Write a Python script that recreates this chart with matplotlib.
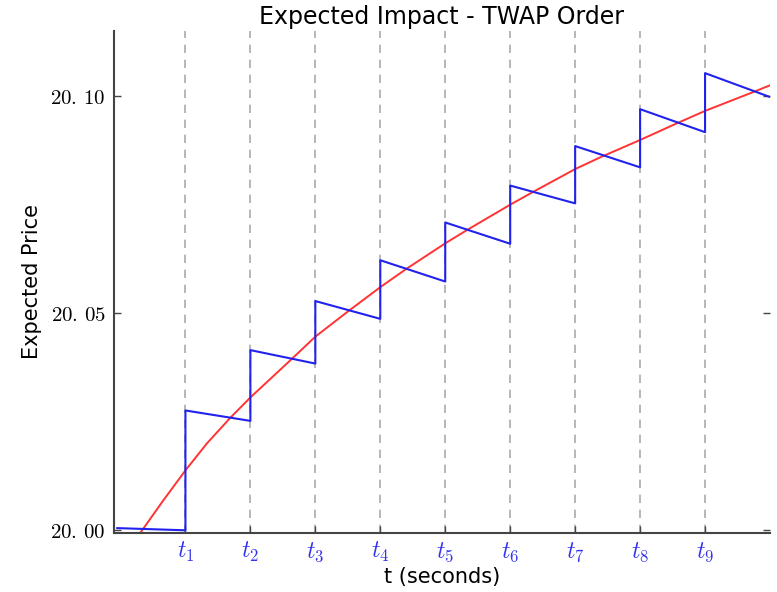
import matplotlib
matplotlib.use('Agg')
import matplotlib.pyplot as plt

# trade times (seconds) and tick labels
trade_times = [1, 2, 3, 4, 5, 6, 7, 8, 9]
trade_labels = [r'$t_{%d}$' % i for i in trade_times]

# blue sawtooth: one (start, end) value pair per interval between trades
seg_starts = [-0.05, 1, 2, 3, 4, 5, 6, 7, 8, 9]
seg_ends = [1, 2, 3, 4, 5, 6, 7, 8, 9, 10]
seg_start_price = [20.0005, 20.0276, 20.0415, 20.0528, 20.0622,
                   20.0709, 20.0794, 20.0885, 20.0970, 20.1053]
seg_end_price = [20.0000, 20.0252, 20.0384, 20.0487, 20.0573,
                 20.0660, 20.0753, 20.0836, 20.0917, 20.0998]

# red curve
curve_t = [0.30, 0.66, 1.0, 1.33, 1.69, 2.0, 2.64, 3.0, 3.51, 4.0, 4.4,
           5.0, 5.34, 6.0, 6.36, 7.0, 7.4, 8.0, 8.56, 9.0, 9.82, 10.0]
curve_price = [19.9993, 20.0069, 20.0138, 20.0200, 20.0259, 20.0306,
               20.0395, 20.0446, 20.0505, 20.0560, 20.0602, 20.0661,
               20.0692, 20.0750, 20.0780, 20.0832, 20.0860, 20.0899,
               20.0937, 20.0966, 20.1014, 20.1025]

ytick_values = [20.00, 20.05, 20.10]
ytick_labels = [r'$20.\,00$', r'$20.\,05$', r'$20.\,10$']

plt.rcParams['mathtext.fontset'] = 'cm'

fig = plt.figure(figsize=(7.77, 5.92), dpi=100)
ax = fig.add_axes([0.1467, 0.0997, 0.8443, 0.8479])

for t in trade_times:
    ax.axvline(t, color='#aaaaaa', linestyle=(0, (5, 4)), linewidth=1.2, zorder=1)

# build the sawtooth path
xs, ys = [], []
for a, b, pa, pb in zip(seg_starts, seg_ends, seg_start_price, seg_end_price):
    xs += [a, b]
    ys += [pa, pb]
ax.plot(xs, ys, color='#2222ee', linewidth=1.5, zorder=3)
ax.plot(curve_t, curve_price, color='#ff3333', linewidth=1.4, zorder=2)

ax.set_xlim(-0.1, 10)
ax.set_ylim(19.99938, 20.1150)

ax.set_xticks(trade_times)
ax.set_xticklabels(trade_labels, color='#3333ee', fontsize=17)
ax.set_yticks(ytick_values)
ax.set_yticklabels(ytick_labels, fontsize=15)

ax.spines['top'].set_visible(False)
ax.spines['right'].set_visible(False)
for s in ['left', 'bottom']:
    ax.spines[s].set_color('#444444')
    ax.spines[s].set_linewidth(1.5)
ax.tick_params(axis='both', direction='in', length=5, width=1, color='#444444')
ax.tick_params(axis='y', right=True, pad=6)
ax.tick_params(axis='x', pad=5)

ax.set_title('Expected Impact - TWAP Order', fontsize=17, pad=5)
ax.set_ylabel('Expected Price', fontsize=15, labelpad=6)
ax.set_xlabel('t (seconds)', fontsize=15, labelpad=2)

plt.savefig('out.png', dpi=100)
